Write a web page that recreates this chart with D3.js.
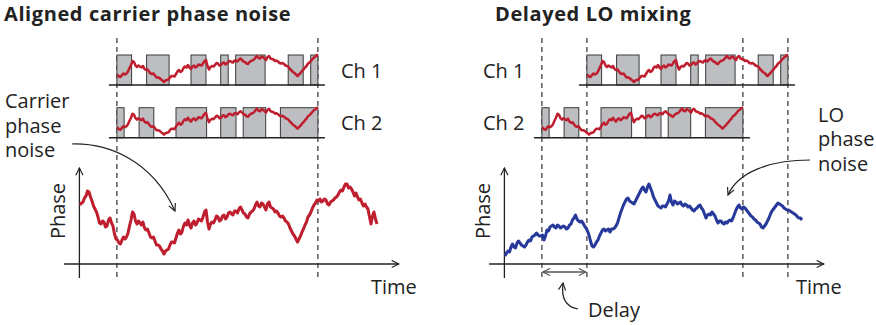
<!DOCTYPE html>
<html>
<head>
<meta charset="utf-8">
<script src="https://cdn.jsdelivr.net/npm/d3@7"></script>
<style>
  body { margin: 0; background: #fff; }
  text { font-family: "Open Sans", sans-serif; fill: #222; }
</style>
</head>
<body>
<script>
// carrier phase noise, one sample every half time unit (t = 0..99)
var carrierPhase = [59, 61, 62, 66, 68, 73, 72, 67, 63, 58,
  55, 52, 47, 41, 40, 43, 42, 37, 38, 44,
  46, 41, 38, 30, 25, 24, 21, 20, 24, 27,
  25, 27, 31, 38, 44, 52, 50, 43, 40, 43,
  41, 39, 42, 36, 34, 35, 31, 27, 26, 27,
  23, 19, 19, 18, 15, 13, 10, 13, 14, 15,
  19, 22, 22, 21, 26, 31, 34, 30, 32, 38,
  41, 39, 44, 39, 36, 41, 43, 39, 41, 45,
  44, 43, 47, 52, 54, 42, 35, 40, 42, 41,
  44, 48, 47, 43, 44, 48, 49, 45, 47, 51,
  52, 50, 49, 53, 53, 51, 55, 57, 54, 51,
  50, 47, 46, 50, 52, 53, 55, 59, 62, 58,
  57, 61, 60, 57, 54, 60, 62, 57, 56, 55,
  52, 53, 51, 48, 47, 48, 46, 43, 42, 40,
  36, 33, 30, 28, 25, 22, 25, 28, 32, 35,
  39, 42, 47, 49, 52, 56, 59, 61, 64, 63,
  65, 62, 63, 65, 64, 60, 59, 62, 63, 64,
  66, 67, 69, 72, 74, 73, 77, 80, 80, 76,
  77, 75, 72, 68, 71, 67, 64, 65, 61, 58,
  60, 57, 55, 47, 40, 48, 52, 45, 40];

// LO phase noise, same sampling
var loPhase = [8, 11, 13, 12, 17, 20, 17, 16, 21, 23,
  21, 19, 18, 17, 19, 22, 24, 23, 27, 28,
  29, 31, 29, 28, 28, 29, 24, 28, 34, 33,
  37, 38, 39, 37, 36, 39, 38, 36, 37, 38,
  37, 35, 36, 39, 40, 44, 46, 49, 45, 43,
  42, 43, 41, 38, 36, 33, 29, 23, 18, 17,
  19, 22, 24, 28, 31, 34, 35, 33, 34, 35,
  32, 35, 35, 36, 38, 41, 46, 51, 55, 59,
  62, 65, 66, 63, 62, 61, 60, 63, 66, 69,
  72, 75, 77, 74, 72, 77, 80, 76, 72, 67,
  64, 61, 58, 57, 56, 58, 58, 57, 60, 63,
  69, 62, 59, 63, 62, 60, 61, 62, 59, 58,
  60, 59, 57, 58, 56, 54, 53, 55, 56, 58,
  59, 56, 54, 50, 46, 49, 50, 49, 52, 50,
  48, 44, 41, 43, 43, 41, 40, 42, 41, 43,
  44, 43, 46, 50, 54, 57, 59, 56, 55, 57,
  56, 54, 52, 50, 48, 47, 45, 44, 42, 41,
  40, 37, 36, 38, 40, 43, 46, 50, 53, 55,
  57, 59, 61, 60, 59, 58, 56, 55, 54, 54,
  53, 52, 51, 50, 49, 47, 46, 46, 44];
var sampleStep = 0.5;

// acquisition windows (start, end) in time units
var ch1Gates = [[12.3, 17.2], [22.2, 29.7], [37, 42], [46.9, 49.4], [51.9, 61.7], [69.4, 74.4], [76.9, 79.3]];
var ch2Gates = [[12.3, 14.7], [19.7, 24.6], [32, 42.2], [46.9, 52], [54.4, 61.9], [66.8, 79.3]];
var markerTimes = [12.3, 79.3];
var loDelay = 15;

var panelTitles = ["Aligned carrier phase noise", "Delayed LO mixing"];
var channelLabels = ["Ch 1", "Ch 2"];
var carrierLabel = ["Carrier", "phase", "noise"];
var loLabel = ["LO", "phase", "noise"];

var W = 876, H = 325;
var RED = "#bf1e2e", BLUE = "#27399a", GATE = "#bdbec1", INK = "#222";

var svg = d3.select("body").append("svg")
  .attr("width", W)
  .attr("height", H);

var defs = svg.append("defs");
function addMarker(id, color) {
  defs.append("marker")
    .attr("id", id)
    .attr("viewBox", "0 0 10 10")
    .attr("refX", 9).attr("refY", 5)
    .attr("markerWidth", 9).attr("markerHeight", 9)
    .attr("markerUnits", "userSpaceOnUse")
    .attr("orient", "auto-start-reverse")
    .append("path")
    .attr("d", "M1,1 L9,5 L1,9")
    .attr("fill", "none")
    .attr("stroke", color)
    .attr("stroke-width", 1.3);
}
addMarker("arr", INK);
addMarker("arrGray", "#555");

var yPhase = d3.scaleLinear().domain([0, 100]).range([264, 164]);
// ch row scales (row 1 / row 2)
var rowTop = [55, 107.7];
function rowScale(r) {
  return d3.scaleLinear().domain([0, 64]).range([rowTop[r] + 32, rowTop[r]]);
}

var clipCount = 0;

function drawPanel(off, opts) {
  var x = d3.scaleLinear().domain([0, 100]).range([80 + off, 380 + off]);
  var g = svg.append("g");

  g.append("text")
    .attr("x", opts.titleX)
    .attr("y", 21)
    .attr("font-size", 20)
    .attr("font-weight", "bold")
    .attr("letter-spacing", 0.6)
    .text(opts.title);

  // dashed markers
  g.selectAll(".mark")
    .data(opts.marks)
    .enter().append("line")
    .attr("x1", function(d) { return x(d); })
    .attr("x2", function(d) { return x(d); })
    .attr("y1", 38)
    .attr("y2", 278)
    .attr("stroke", "#333")
    .attr("stroke-width", 1.2)
    .attr("stroke-dasharray", "5,4");

  // channel rows
  opts.rows.forEach(function(row, r) {
    var ys = rowScale(r);
    var base = rowTop[r] + 30;
    var shift = row.shift;
    var rg = g.append("g");

    rg.selectAll("rect")
      .data(row.gates)
      .enter().append("rect")
      .attr("x", function(d) { return x(d[0] + shift); })
      .attr("width", function(d) { return x(d[1]) - x(d[0]); })
      .attr("y", rowTop[r])
      .attr("height", 30)
      .attr("fill", GATE)
      .attr("stroke", "#3a3a3a")
      .attr("stroke-width", 1);

    var id = "clip" + (clipCount++);
    defs.append("clipPath").attr("id", id)
      .append("rect")
      .attr("x", x(markerTimes[0] + shift))
      .attr("width", x(markerTimes[1]) - x(markerTimes[0]))
      .attr("y", 0).attr("height", H);

    var line = d3.line()
      .x(function(d, i) { return x(i * sampleStep + shift); })
      .y(function(d) { return ys(d); });

    rg.append("path")
      .datum(carrierPhase)
      .attr("clip-path", "url(#" + id + ")")
      .attr("d", line)
      .attr("fill", "none")
      .attr("stroke", RED)
      .attr("stroke-width", 2.5)
      .attr("stroke-linejoin", "round");

    rg.append("line")
      .attr("x1", x(markerTimes[0] + shift) - 8)
      .attr("x2", x(markerTimes[1] + shift) + 7)
      .attr("y1", base).attr("y2", base)
      .attr("stroke", INK)
      .attr("stroke-width", 1.4);

    g.append("text")
      .attr("x", opts.chX)
      .attr("y", rowTop[r] + 22.5)
      .attr("font-size", 20)
      .text(channelLabels[r]);
  });

  // axes
  g.append("line")
    .attr("x1", x(-5.3)).attr("x2", x(106.3))
    .attr("y1", yPhase(0)).attr("y2", yPhase(0))
    .attr("stroke", INK).attr("stroke-width", 1.3)
    .attr("marker-end", "url(#arr)");
  g.append("line")
    .attr("x1", x(-0.2)).attr("x2", x(-0.2))
    .attr("y1", yPhase(-14)).attr("y2", yPhase(96))
    .attr("stroke", INK).attr("stroke-width", 1.3)
    .attr("marker-end", "url(#arr)");

  g.append("text")
    .attr("transform", "translate(" + (x(-0.2) - 14.5) + ",211) rotate(-90)")
    .attr("text-anchor", "middle")
    .attr("font-size", 20)
    .text("Phase");
  g.append("text")
    .attr("x", x(97)).attr("y", 293.5)
    .attr("font-size", 20)
    .text("Time");

  // noise trace
  var pline = d3.line()
    .x(function(d, i) { return x(i * sampleStep); })
    .y(function(d) { return yPhase(d); });
  g.append("path")
    .datum(opts.noise)
    .attr("d", pline)
    .attr("fill", "none")
    .attr("stroke", opts.color)
    .attr("stroke-width", 3)
    .attr("stroke-linejoin", "round");

  // multi-line label
  g.append("text")
    .attr("font-size", 20)
    .selectAll("tspan")
    .data(opts.label)
    .enter().append("tspan")
    .attr("x", opts.labelX)
    .attr("y", function(d, i) { return opts.labelY + i * 24.7; })
    .text(function(d) { return d; });

  g.append("path")
    .attr("d", opts.labelArrow)
    .attr("fill", "none")
    .attr("stroke", INK)
    .attr("stroke-width", 1.2)
    .attr("marker-end", "url(#arr)");

  return x;
}

drawPanel(0, {
  title: panelTitles[0], titleX: 4, chX: 341,
  marks: markerTimes,
  rows: [{ gates: ch1Gates, shift: 0 }, { gates: ch2Gates, shift: 0 }],
  noise: carrierPhase, color: RED,
  label: carrierLabel, labelX: 5, labelY: 108,
  labelArrow: "M72,144 C108,143 152,160 175,211"
});

var xr = drawPanel(425, {
  title: panelTitles[1], titleX: 495, chX: 483,
  marks: [markerTimes[0], markerTimes[0] + loDelay, markerTimes[1], markerTimes[1] + loDelay],
  rows: [{ gates: ch1Gates, shift: loDelay }, { gates: ch2Gates, shift: 0 }],
  noise: loPhase, color: BLUE,
  label: loLabel, labelX: 818, labelY: 121.7,
  labelArrow: "M810,160 C770,160 738,172 728,195"
});

// delay indicator
svg.append("line")
  .attr("x1", xr(markerTimes[0]) + 1).attr("x2", xr(markerTimes[0] + loDelay) - 1)
  .attr("y1", 272).attr("y2", 272)
  .attr("stroke", "#555").attr("stroke-width", 1.5)
  .attr("marker-start", "url(#arrGray)")
  .attr("marker-end", "url(#arrGray)");
svg.append("path")
  .attr("d", "M578,309 C566,307 561,298 563,283")
  .attr("fill", "none")
  .attr("stroke", INK).attr("stroke-width", 1.2)
  .attr("marker-end", "url(#arr)");
svg.append("text")
  .attr("x", 588).attr("y", 317)
  .attr("font-size", 20)
  .text("Delay");
</script>
</body>
</html>
